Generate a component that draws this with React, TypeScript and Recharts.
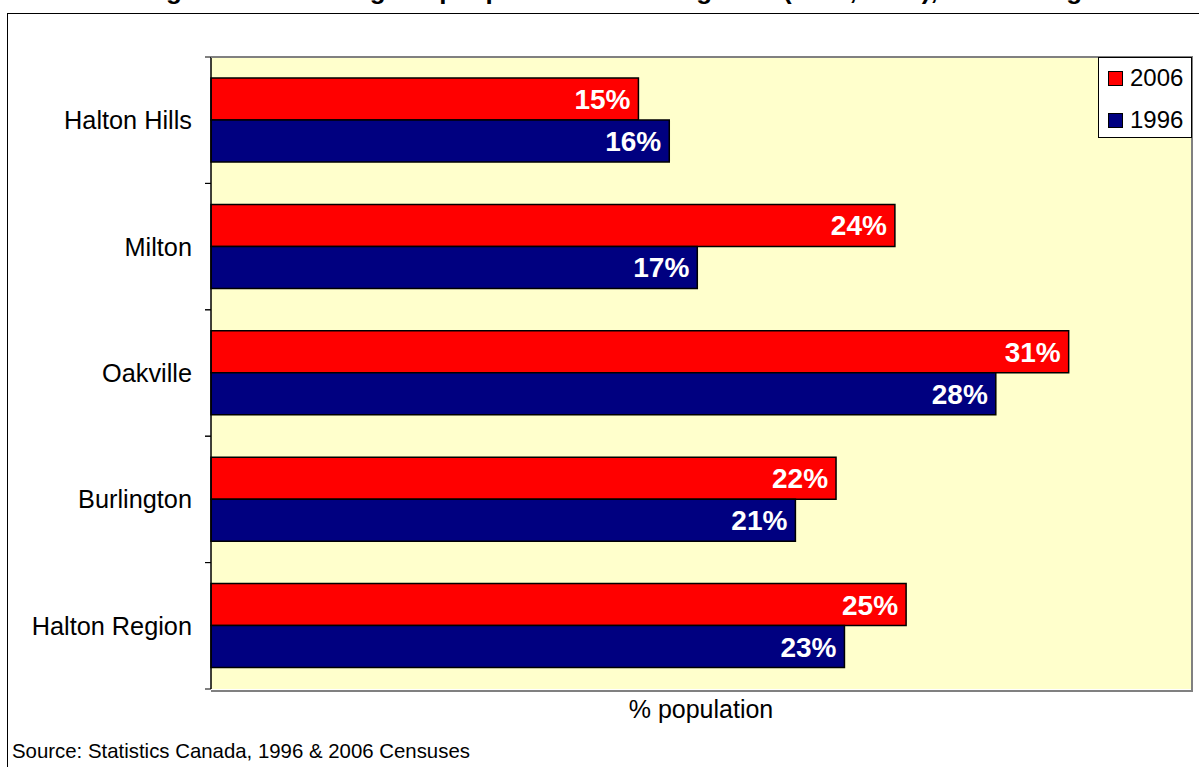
import React from "react";
import { BarChart, Bar, XAxis, YAxis, CartesianGrid, LabelList } from "recharts";

const FONT = "Arial, 'Liberation Sans', sans-serif";

const REGIONS = ["Halton Hills", "Milton", "Oakville", "Burlington", "Halton Region"];
const SHARE_2006 = [15.25, 24.4, 30.6, 22.3, 24.8];
const SHARE_1996 = [16.35, 17.35, 28.0, 20.85, 22.6];

const SERIES = [
  { key: "y2006", name: "2006", color: "#FF0000" },
  { key: "y1996", name: "1996", color: "#000080" },
];

const X_DOMAIN: [number, number] = [0, 35];

const W = 1199;
const H = 767;
const PLOT_TOP = 57;
const PLOT_BOTTOM = 689;
const PLOT_LEFT = 211;
const PLOT_RIGHT = 1192;
const BAND = (PLOT_BOTTOM - PLOT_TOP) / REGIONS.length;

const data = REGIONS.map((name, i) => ({
  name,
  y2006: SHARE_2006[i],
  y1996: SHARE_1996[i],
}));

const CategoryTick = (props: any) => {
  const { x, y, payload } = props;
  const half = BAND / 2;
  return (
    <g>
      <text
        x={x - 19}
        y={y}
        textAnchor="end"
        dominantBaseline="central"
        fontSize={25.3}
        fontFamily={FONT}
        fill="#000"
      >
        {payload.value}
      </text>
      <line x1={x - 6} x2={x} y1={y - half} y2={y - half} stroke="#000" strokeWidth={1} />
      <line x1={x - 6} x2={x} y1={y + half} y2={y + half} stroke="#000" strokeWidth={1} />
    </g>
  );
};

export default function App() {
  return (
    <div
      style={{
        position: "fixed",
        left: 0,
        top: 0,
        width: W,
        height: H,
        overflow: "hidden",
        background: "#fff",
        fontFamily: FONT,
      }}
    >
      {/* outer frame, runs off the page to the right and bottom */}
      <div
        style={{
          position: "absolute",
          left: 7,
          top: 13,
          width: 1300,
          height: 900,
          border: "1.5px solid #000",
        }}
      />
      <div style={{ position: "absolute", left: 0, top: 0 }}>
        <BarChart
          width={W}
          height={H}
          data={data}
          layout="vertical"
          margin={{ top: PLOT_TOP, right: W - PLOT_RIGHT, bottom: H - PLOT_BOTTOM, left: 0 }}
          barGap={0}
        >
          <CartesianGrid horizontal={false} vertical={false} fill="#FFFFCC" />
          <XAxis type="number" domain={X_DOMAIN} hide />
          <YAxis
            type="category"
            dataKey="name"
            width={PLOT_LEFT}
            axisLine={{ stroke: "#000", strokeWidth: 1.5 }}
            tickLine={false}
            tickSize={0}
            tickMargin={0}
            tick={<CategoryTick />}
            interval={0}
          />
          {SERIES.map((s) => (
            <Bar
              key={s.key}
              dataKey={s.key}
              name={s.name}
              fill={s.color}
              stroke="#000"
              strokeWidth={1.5}
              barSize={42}
              isAnimationActive={false}
            >
              <LabelList
                dataKey={s.key}
                position="insideRight"
                offset={8}
                fill="#fff"
                fontSize={28}
                fontWeight="bold"
                fontFamily={FONT}
                formatter={(v: any) => `${Math.round(Number(v))}%`}
              />
            </Bar>
          ))}
        </BarChart>
      </div>
      {/* plot frame (top, right, bottom) */}
      <div
        style={{
          position: "absolute",
          left: PLOT_LEFT,
          top: PLOT_TOP - 1,
          width: PLOT_RIGHT - PLOT_LEFT - 1,
          height: PLOT_BOTTOM - PLOT_TOP,
          borderTop: "2px solid #808080",
          borderRight: "2px solid #808080",
          borderBottom: "2px solid #808080",
          pointerEvents: "none",
        }}
      />
      {/* legend */}
      <div
        style={{
          position: "absolute",
          left: 1098,
          top: 57,
          width: 94,
          height: 81,
          border: "1px solid #000",
          background: "#fff",
          boxSizing: "border-box",
        }}
      >
        {SERIES.map((s, i) => (
          <div
            key={s.key}
            style={{
              position: "absolute",
              left: 9,
              top: 6 + i * 42,
              height: 28,
              display: "flex",
              alignItems: "center",
            }}
          >
            <span
              style={{
                display: "inline-block",
                width: 13,
                height: 13,
                background: s.color,
                border: "1px solid #000",
                marginRight: 7,
              }}
            />
            <span style={{ fontSize: 24, color: "#000" }}>{s.name}</span>
          </div>
        ))}
      </div>
      <svg
        width={W}
        height={H}
        style={{ position: "absolute", left: 0, top: 0, pointerEvents: "none", overflow: "hidden" }}
      >
        <text x={143} y={-1} fontSize={26} fontWeight="bold" fontFamily={FONT} fill="#000">
          Figure 4: Percentage of people who are immigrants (1996, 2006), Halton Region
        </text>
        <text x={701} y={718} textAnchor="middle" fontSize={25} fontFamily={FONT} fill="#000">
          % population
        </text>
        <text x={12} y={758} fontSize={20.4} fontFamily={FONT} fill="#000">
          Source: Statistics Canada, 1996 &amp; 2006 Censuses
        </text>
      </svg>
    </div>
  );
}
